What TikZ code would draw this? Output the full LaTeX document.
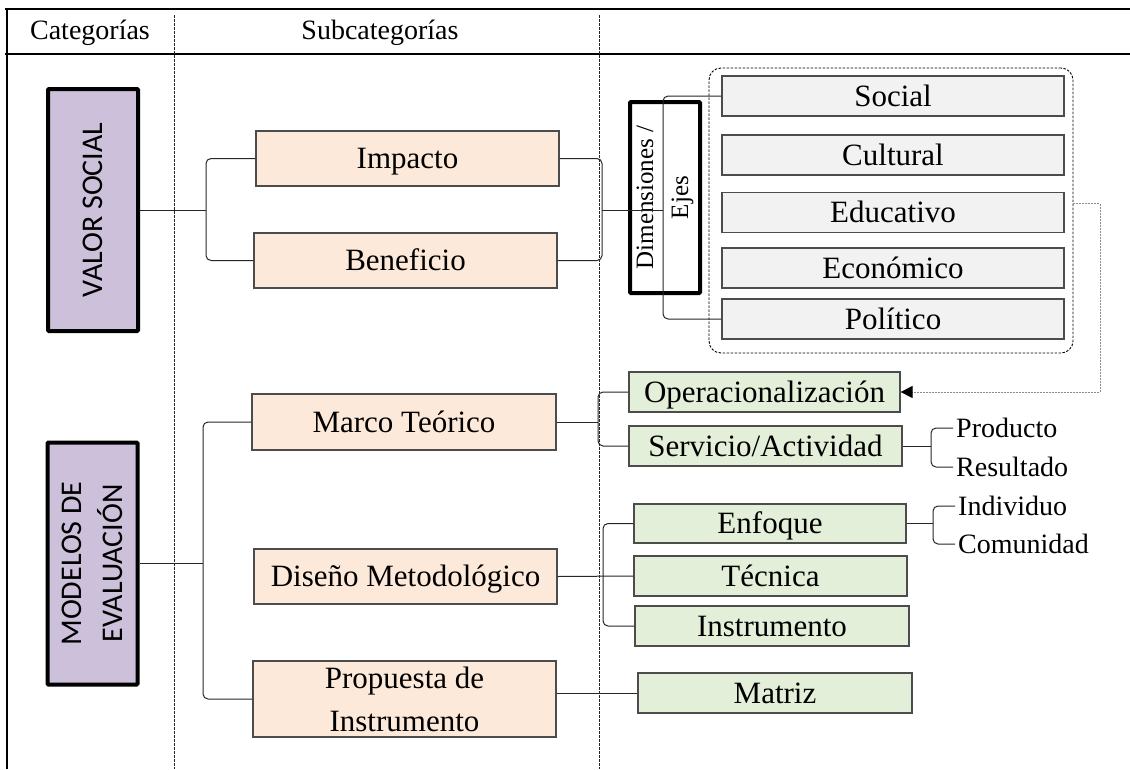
\documentclass[tikz,border=0pt]{standalone}
\usepackage{fontspec}
\setmainfont{Liberation Serif}
\newfontfamily\boxsans{Carlito}
\usetikzlibrary{positioning,arrows.meta}
\definecolor{catpurple}{HTML}{CCC0DA}
\definecolor{subpeach}{HTML}{FDE9D9}
\definecolor{dimgreen}{HTML}{E3EFD9}
\definecolor{dimgray}{HTML}{F2F2F2}
\newcommand{\mainfs}{\fontsize{31}{37}\selectfont}
\newcommand{\smallfs}{\fontsize{28}{32}\selectfont}

\begin{document}
\begin{tikzpicture}[
    x=1pt, y=-1pt,
    every node/.style={inner sep=0pt},
    catbox/.style={draw=black, line width=4pt, fill=catpurple, rounded corners=1pt, rotate=90, minimum width=242, minimum height=90, align=center, font=\boxsans\fontsize{30}{41}\selectfont},
    plainbox/.style={draw=black!70, line width=1.2pt, font=\mainfs},
    capbox/.style={plainbox, text height=20.5pt, text depth=0pt},
    subbox/.style={capbox, fill=subpeach, minimum width=303, minimum height=55},
    greenbox/.style={capbox, fill=dimgreen, minimum width=273, minimum height=40},
    graybox/.style={capbox, fill=dimgray, minimum width=342, minimum height=40},
    dimsbox/.style={draw=black, line width=4pt, fill=white, rounded corners=1pt, rotate=90, minimum width=191, minimum height=70, align=center, font=\fontsize{25}{35}\selectfont},
    groupbox/.style={draw=black, line width=0.9pt, dash pattern=on 2.5pt off 1.5pt, rounded corners=12pt, minimum width=364, minimum height=285},
    leaf/.style={anchor=west, inner sep=3pt, font=\smallfs},
    headtext/.style={font=\fontsize{28}{32}\selectfont},
    link/.style={draw=black!85, line width=1pt, rounded corners=5pt},
    rule/.style={draw=black, line width=1.4pt},
    sep/.style={draw=black!85, line width=0.9pt, dash pattern=on 2.5pt off 1.5pt},
    feedback/.style={draw=black!45, line width=0.9pt, dash pattern=on 2pt off 1pt, -{Triangle[length=12pt,width=12pt,color=black]}}
]
\useasboundingbox (0,0) rectangle (1130,769);

% table frame
\draw[rule] (5,9) -- (1130,9);
\draw[rule, line width=1.8pt] (5,54) -- (1130,54);
\draw[rule, line width=1.1pt] (7,9) -- (7,769);
\draw[sep] (174,15) -- (174,769);
\draw[sep] (599,15) -- (599,769);

% headers
\node[headtext] (cathead) at (90,33) {Categorías};
\node[headtext] (subhead) at (380,33) {Subcategorías};

% categories (rotated: .south is the right side)
\node[catbox] (valor) at (93,210) {VALOR SOCIAL};
\node[catbox] (modelos) at (92.5,563.5) {MODELOS DE\\EVALUACIÓN};

% subcategories
\node[subbox] (impacto) at (407.5,158.5) {Impacto};
\node[subbox] (beneficio) at (405.5,260.5) {Beneficio};
\node[subbox, minimum width=304, minimum height=56] (marco) at (404,422) {Marco Teórico};
\node[subbox] (diseno) at (405.5,576.5) {Diseño Metodológico};
\node[plainbox, fill=subpeach, minimum width=303, minimum height=76, align=center, font=\fontsize{31}{43}\selectfont] (propuesta) at (404.5,699) {Propuesta de\\Instrumento};

% dimensions
\node[groupbox] (dimgroup) at (891,210.5) {};
\node[dimsbox] (dims) at (665,197.5) {Dimensiones /\\Ejes};
\node[graybox] (social) at (893,96) {Social};
\node[graybox] (cultural) at (893,155) {Cultural};
\node[graybox] (educativo) at (893,212.5) {Educativo};
\node[graybox] (economico) at (893,268) {Económico};
\node[graybox] (politico) at (893,319) {Político};

% evaluation elements
\node[greenbox, minimum width=271] (oper) at (764.5,392) {Operacionalización};
\node[greenbox] (servicio) at (765.5,446) {Servicio/Actividad};
\node[greenbox, minimum width=272, minimum height=39] (enfoque) at (770,523.5) {Enfoque};
\node[greenbox] (tecnica) at (770.5,576) {Técnica};
\node[greenbox, minimum width=274] (instrumento) at (772,626) {Instrumento};
\node[greenbox, minimum width=274] (matriz) at (775,693) {Matriz};

\node[leaf] (producto) at (953,428) {Producto};
\node[leaf] (resultado) at (953,467) {Resultado};
\node[leaf] (individuo) at (955,506) {Individuo};
\node[leaf] (comunidad) at (955,544) {Comunidad};

% bracket joints
\coordinate (valmid) at (206,210);
\coordinate (ibmid) at (602,210);
\coordinate (dimmid) at (663,210);
\coordinate (modmid) at (203,563.5);
\coordinate (marmid) at (598,422);
\coordinate (dismid) at (603,576);
\coordinate (svmid) at (931,446);
\coordinate (enfmid) at (933,523.5);
\coordinate (fbturn) at (1100,300);

% brackets
\draw[link] (valor.south) -- (valmid);
\draw[link] (impacto.west) -| (valmid) |- (beneficio.west);
\draw[link] (impacto.east) -| (ibmid) |- (beneficio.east);
\draw[link] (ibmid) -- (dimmid);
\draw[link] (social.west) -| (dimmid) |- (politico.west);

\draw[link] (modelos.south) -- (modmid);
\draw[link] (marco.west) -| (modmid) |- (propuesta.west);
\draw[link] (marco.east) -- (marmid);
\draw[link] (oper.west) -| (marmid) |- (servicio.west);
\draw[link] (diseno.east) -- (tecnica.west);
\draw[link] (enfoque.west) -| (dismid) |- (instrumento.west);
\draw[link] (propuesta.east |- matriz.west) -- (matriz.west);

\draw[link] (servicio.east) -- (svmid);
\draw[link] (producto.west) -| (svmid) |- (resultado.west);
\draw[link] (enfoque.east) -- (enfmid);
\draw[link] (individuo.west) -| (enfmid) |- (comunidad.west);

% feedback to operacionalizacion
\draw[feedback] ([yshift=7pt]dimgroup.east) -| (fbturn) |- (oper.east);

\end{tikzpicture}
\end{document}
